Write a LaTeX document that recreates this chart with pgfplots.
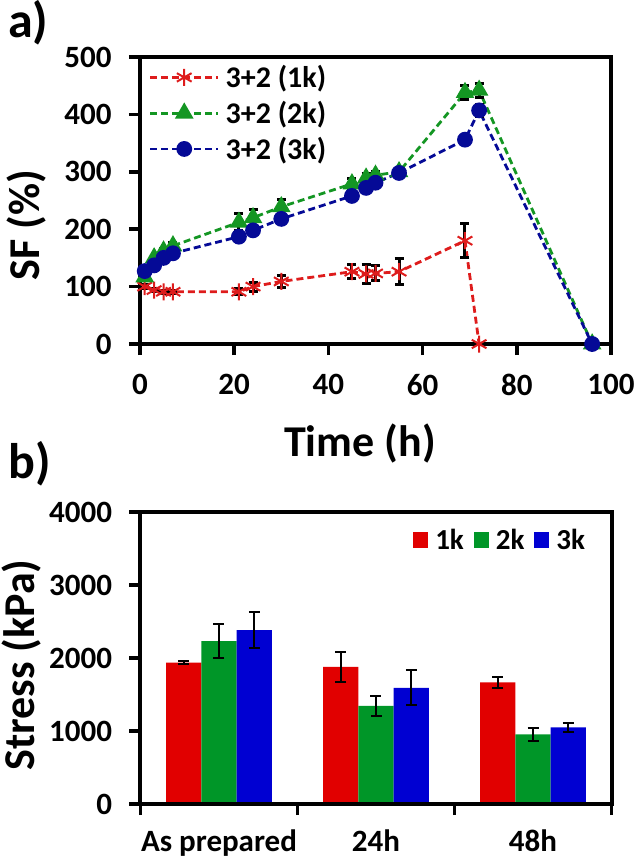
\documentclass[border=0pt]{standalone}
\usepackage{fontspec}
\setmainfont{Carlito}
\usepackage{pgfplots}
\usepackage{pgfplotstable}
\pgfplotsset{compat=1.18}

\definecolor{lred}{RGB}{222,28,28}
\definecolor{lgreen}{RGB}{20,150,35}
\definecolor{lblue}{RGB}{5,10,150}
\definecolor{bred}{RGB}{225,0,0}
\definecolor{bgreen}{RGB}{0,150,40}
\definecolor{bblue}{RGB}{0,0,210}

\pgfplotstableread{
x y e
1 100 3
3 94 3
5 91 3
7 91 3
21 91 5
24 100 8
30 109 10
45 126 12
48 122 16
50 123 13
55 126 23
69 180 30
72 0 0
}\onek
\pgfplotstableread{
x y e
1 117 3
3 150 5
5 162 5
7 171 5
21 212 15
24 220 14
30 239 13
45 279 10
48 289 8
50 294 6
55 300 4
69 438 12
72 442 12
96 0 0
}\twok
\pgfplotstableread{
x y e
1 127 3
3 137 4
5 150 4
7 158 4
21 187 4
24 198 4
30 218 4
45 258 8
48 272 4
50 281 4
55 298 4
69 356 8
72 407 10
96 0 0
}\threek

\pgfplotsset{
  common/.style={
    scale only axis,
    axis line style={line width=4pt},
    tick align=outside, xtick pos=left, ytick pos=left,
    major tick length=11pt,
    tick style={black, line width=3.5pt},
    /pgf/number format/assume math mode=true,
    /pgf/number format/1000 sep={},
    ticklabel style={font=\bfseries\fontsize{31}{31}\selectfont},
    label style={font=\bfseries\fontsize{44}{44}\selectfont},
    xticklabel style={yshift=-16pt},
    yticklabel style={xshift=-14pt},
  },
  eb/.style={
    error bars/y dir=both, error bars/y explicit,
    error bars/error bar style={black, line width=3pt, solid},
    error bars/error mark options={black, rotate=90, mark size=4.5pt, line width=3pt, solid},
  },
  ebb/.style={
    error bars/y dir=both, error bars/y explicit,
    error bars/error bar style={black, line width=2pt, solid},
    error bars/error mark options={black, rotate=90, mark size=5.5pt, line width=2pt, solid},
  },
}

\begin{document}
\begin{tikzpicture}
\path[use as bounding box] (0,0) rectangle (633pt,-860pt);
\node[anchor=base west, inner sep=0pt, font=\bfseries\fontsize{50}{50}\selectfont] at (8pt,-37pt) {a)};
\node[anchor=base west, inner sep=0pt, font=\bfseries\fontsize{50}{50}\selectfont] at (8pt,-478pt) {b)};

\begin{axis}[common,
  at={(140pt,-344pt)}, anchor=south west,
  width=471pt, height=287pt,
  xmin=0, xmax=100, ymin=0, ymax=500,
  xtick={0,20,...,100}, ytick={0,100,...,500},
  xlabel={Time (h)}, ylabel={SF (\%)},
  xlabel style={at={(axis description cs:0.467,-0.348)}, anchor=center},
  ylabel style={at={(axis description cs:-0.242,0.415)}, anchor=center},
  legend style={draw=none, fill=none, at={(axis description cs:0.012,0.985)}, anchor=north west,
    font=\bfseries\fontsize{30}{30}\selectfont, row sep=8pt, cells={anchor=west},
    /tikz/every odd column/.append style={column sep=4pt}},
  legend image code/.code={\draw[#1, mark repeat=2, mark phase=2] plot coordinates {(0pt,0pt) (34pt,0pt) (68pt,0pt)};},
]
\draw[black, line width=4pt] (rel axis cs:0,0) rectangle (rel axis cs:1,1);
\addplot[lred, line width=2.8pt, dash pattern=on 7pt off 4pt, mark=asterisk, mark size=8.5pt, mark options={solid, line width=2pt}, eb]
  table[x=x, y=y, y error=e] {\onek};
\addlegendentry{3+2 (1k)}
\addplot[lgreen, line width=2.8pt, dash pattern=on 7pt off 4pt, mark=triangle*, mark size=8pt, mark options={solid}, eb]
  table[x=x, y=y, y error=e] {\twok};
\addlegendentry{3+2 (2k)}
\addplot[lblue, line width=2.8pt, dash pattern=on 7pt off 4pt, mark=*, mark size=6.5pt, mark options={solid}, eb]
  table[x=x, y=y, y error=e] {\threek};
\addlegendentry{3+2 (3k)}
\end{axis}

\begin{axis}[common,
  at={(140.5pt,-804pt)}, anchor=south west,
  width=471pt, height=292pt,
  xmin=-0.5, xmax=2.5, ymin=0, ymax=4000,
  xtick={-0.5,0.5,1.5,2.5}, x tick label as interval,
  xticklabels={As prepared,24h,48h},
  xticklabel style={yshift=5pt},
  ytick={0,1000,...,4000},
  ylabel={Stress (kPa)},
  ylabel style={at={(axis description cs:-0.252,0.476)}, anchor=center},
  ybar=0pt, bar width=35.3pt,
  legend columns=3,
  legend style={draw=none, fill=none, at={(axis description cs:0.955,0.955)}, anchor=north east,
    font=\bfseries\fontsize{29}{29}\selectfont,
    /tikz/every odd column/.append style={column sep=5pt},
    /tikz/every even column/.append style={column sep=8pt}},
  legend image code/.code={\draw[#1, draw=none] (0pt,-8pt) rectangle (15pt,8pt);},
]
\addplot[fill=bred, draw=none, ebb] coordinates {(0,1938) +- (0,15) (1,1879) +- (0,205) (2,1665) +- (0,80)};
\addlegendentry{1k}
\addplot[fill=bgreen, draw=none, ebb] coordinates {(0,2230) +- (0,232) (1,1345) +- (0,137) (2,953) +- (0,91)};
\addlegendentry{2k}
\addplot[fill=bblue, draw=none, ebb] coordinates {(0,2381) +- (0,244) (1,1592) +- (0,242) (2,1049) +- (0,57)};
\addlegendentry{3k}
\draw[black, line width=4pt] (rel axis cs:0,0) rectangle (rel axis cs:1,1);
\end{axis}
\end{tikzpicture}
\end{document}
